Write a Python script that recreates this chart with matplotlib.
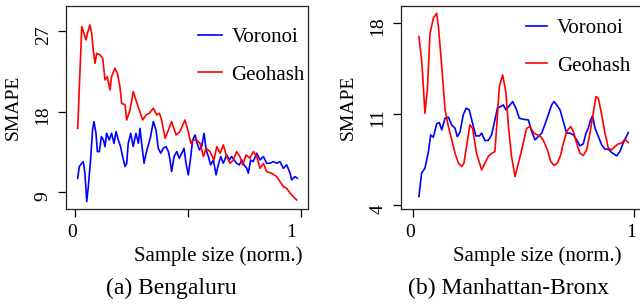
import matplotlib
matplotlib.use("Agg")
import matplotlib.pyplot as plt
from matplotlib.transforms import ScaledTranslation

plt.rcParams['font.family'] = ['Liberation Serif', 'DejaVu Serif']

# ---------------- data: (a) Bengaluru ----------------
a_geo_x = [0.012, 0.030, 0.037, 0.049, 0.055, 0.066, 0.074, 0.081, 0.089, 0.096,
           0.111, 0.123, 0.133, 0.143, 0.155, 0.162, 0.177, 0.188, 0.199, 0.207,
           0.222, 0.229, 0.244, 0.258, 0.270, 0.285, 0.300, 0.315, 0.329, 0.347,
           0.362, 0.374, 0.384, 0.399, 0.414, 0.428, 0.448, 0.465, 0.487, 0.502,
           0.513, 0.524, 0.539, 0.554, 0.569, 0.581, 0.598, 0.616, 0.628, 0.643,
           0.657, 0.672, 0.687, 0.702, 0.716, 0.731, 0.743, 0.758, 0.775, 0.790,
           0.805, 0.820, 0.835, 0.849, 0.871, 0.894, 0.908, 0.923, 0.938, 0.953,
           0.967, 0.982]
a_geo_y = [16.14, 27.48, 26.93, 26.00, 26.74, 27.67, 26.74, 24.88, 23.39, 24.51,
           24.32, 23.95, 21.54, 21.91, 20.42, 21.91, 22.84, 22.28, 20.79, 18.93,
           18.75, 17.07, 18.19, 20.23, 19.30, 18.19, 17.07, 17.63, 17.82, 18.38,
           17.63, 17.82, 17.07, 15.03, 15.96, 16.89, 15.40, 15.77, 17.07, 15.77,
           14.47, 14.84, 14.84, 14.47, 12.99, 13.91, 13.54, 12.61, 14.10, 13.36,
           14.29, 12.99, 12.24, 12.61, 13.54, 12.99, 12.06, 13.17, 12.80, 13.54,
           12.99, 11.68, 12.24, 11.31, 11.13, 10.75, 10.20, 9.64, 9.45, 8.90,
           8.52, 8.15]

a_vor_x = [0.012, 0.019, 0.030, 0.037, 0.044, 0.052, 0.059, 0.069, 0.078, 0.084,
           0.093, 0.099, 0.108, 0.117, 0.126, 0.133, 0.140, 0.152, 0.162, 0.173,
           0.182, 0.192, 0.202, 0.211, 0.222, 0.229, 0.236, 0.247, 0.258, 0.270,
           0.281, 0.288, 0.297, 0.306, 0.315, 0.325, 0.335, 0.347, 0.359, 0.369,
           0.380, 0.391, 0.403, 0.414, 0.421, 0.428, 0.439, 0.451, 0.462, 0.473,
           0.483, 0.492, 0.502, 0.513, 0.521, 0.532, 0.539, 0.551, 0.561, 0.572,
           0.581, 0.591, 0.601, 0.613, 0.625, 0.635, 0.646, 0.657, 0.672, 0.684,
           0.694, 0.705, 0.716, 0.728, 0.739, 0.749, 0.761, 0.768, 0.778, 0.790,
           0.805, 0.820, 0.835, 0.849, 0.864, 0.879, 0.894, 0.908, 0.923, 0.938,
           0.953, 0.960, 0.975, 0.985]
a_vor_y = [10.57, 11.87, 12.24, 12.43, 11.13, 7.97, 9.64, 12.61, 15.96, 16.89,
           15.59, 13.54, 13.54, 15.22, 14.84, 14.10, 15.59, 14.84, 15.59, 14.47,
           15.77, 14.84, 14.10, 12.99, 11.87, 12.24, 14.47, 15.59, 14.10, 15.59,
           14.47, 16.14, 14.10, 12.24, 13.36, 14.29, 15.22, 16.89, 15.96, 13.91,
           13.36, 13.91, 14.10, 13.54, 12.61, 11.31, 12.99, 13.54, 12.80, 13.36,
           13.91, 12.24, 10.94, 12.99, 14.84, 15.40, 14.66, 13.73, 14.10, 15.59,
           13.73, 12.99, 12.06, 12.61, 10.94, 12.06, 12.99, 12.24, 13.17, 12.61,
           12.99, 12.61, 12.24, 12.06, 12.61, 12.06, 11.68, 11.13, 12.61, 12.43,
           13.36, 12.61, 12.99, 12.24, 12.24, 12.43, 12.24, 12.43, 11.68, 12.06,
           11.13, 10.38, 10.75, 10.57]

# ---------------- data: (b) Manhattan-Bronx ----------------
b_geo_x = [0.028, 0.040, 0.048, 0.055, 0.066, 0.078, 0.093, 0.108, 0.116, 0.131,
           0.146, 0.161, 0.176, 0.191, 0.206, 0.221, 0.231, 0.243, 0.258, 0.270,
           0.288, 0.311, 0.326, 0.341, 0.356, 0.371, 0.382, 0.391, 0.406, 0.421,
           0.432, 0.446, 0.462, 0.477, 0.492, 0.502, 0.514, 0.529, 0.547, 0.563,
           0.578, 0.592, 0.608, 0.623, 0.638, 0.653, 0.668, 0.680, 0.695, 0.713,
           0.725, 0.740, 0.755, 0.770, 0.785, 0.800, 0.815, 0.827, 0.838, 0.853,
           0.868, 0.883, 0.898, 0.913, 0.928, 0.943, 0.958, 0.973]
b_geo_y = [16.93, 15.14, 13.09, 11.04, 12.83, 17.18, 18.33, 18.72, 17.69, 14.62,
           11.30, 10.02, 9.00, 7.97, 7.21, 6.95, 7.21, 8.49, 10.15, 9.89,
           7.97, 6.70, 7.21, 7.72, 7.97, 8.10, 10.79, 13.09, 13.98, 12.58,
           10.02, 7.72, 6.18, 7.21, 8.23, 9.00, 9.89, 10.02, 9.51, 9.38,
           9.25, 8.87, 8.23, 7.34, 7.03, 7.21, 7.85, 8.74, 9.64, 10.02,
           9.64, 8.74, 7.97, 7.80, 8.23, 9.51, 11.04, 12.32, 12.19, 10.92,
           9.51, 8.36, 8.23, 8.49, 8.69, 8.74, 9.05, 8.79]

b_vor_x = [0.028, 0.040, 0.055, 0.071, 0.081, 0.093, 0.108, 0.120, 0.131, 0.146,
           0.161, 0.176, 0.191, 0.201, 0.213, 0.228, 0.241, 0.255, 0.270, 0.285,
           0.301, 0.311, 0.326, 0.341, 0.356, 0.371, 0.382, 0.397, 0.409, 0.421,
           0.436, 0.451, 0.466, 0.481, 0.499, 0.522, 0.537, 0.552, 0.567, 0.582,
           0.596, 0.612, 0.627, 0.638, 0.650, 0.665, 0.680, 0.695, 0.710, 0.725,
           0.740, 0.755, 0.770, 0.782, 0.792, 0.803, 0.812, 0.823, 0.838, 0.853,
           0.868, 0.883, 0.898, 0.921, 0.935, 0.951, 0.973]
b_vor_y = [4.65, 6.44, 6.82, 8.10, 9.38, 9.20, 10.23, 10.33, 9.76, 10.66,
           10.74, 10.15, 9.89, 9.25, 9.56, 10.92, 11.43, 11.30, 10.28, 9.30,
           9.30, 9.51, 8.95, 8.95, 9.38, 10.53, 11.43, 11.56, 11.68, 11.30,
           11.61, 11.94, 11.43, 10.66, 10.58, 10.53, 9.64, 9.00, 9.25, 9.51,
           10.15, 10.92, 11.68, 11.94, 11.68, 11.30, 10.40, 9.51, 9.51, 9.38,
           9.00, 8.54, 8.69, 9.51, 9.89, 10.53, 10.84, 9.89, 9.25, 8.61,
           8.28, 8.28, 8.03, 7.77, 8.10, 8.79, 9.56]

series_names = ["Voronoi", "Geohash"]
a_yticks = [9, 18, 27]
b_yticks = [4, 11, 18]
a_xticks = [0, 0.5, 1]
a_xticklabels = ["0", "", "1"]
b_xticks = [0, 1]
b_xticklabels = ["0", "1"]
captions = ["(a) Bengaluru", "(b) Manhattan-Bronx"]
xlab = "Sample size (norm.)"
ylab = "SMAPE"

BLUE = "#0000ff"
RED = "#ff0000"

fig = plt.figure(figsize=(6.4, 3.07), dpi=100)
H = 307.0
W = 640.0
bot = (H - 209) / H
top = (H - 5.7) / H
axa = fig.add_axes([66.3 / W, bot, (308.3 - 66.3) / W, top - bot])
axb = fig.add_axes([401 / W, bot, (642 - 401) / W, top - bot])


def style(ax, xt, xtl, yt, xlim, ylim, legend_anchor, hlen):
    ax.set_xlim(*xlim)
    ax.set_ylim(*ylim)
    ax.set_xticks(xt)
    ax.set_xticklabels(xtl)
    ax.set_yticks(yt)
    ax.set_yticklabels([str(v) for v in yt], rotation=90, va='center')
    ax.tick_params(axis='both', direction='out', length=5.5, width=0.9,
                   labelsize=14, color='black')
    ax.tick_params(axis='x', pad=5)
    ax.tick_params(axis='y', pad=5)
    for s in ax.spines.values():
        s.set_linewidth(0.9)
        s.set_color('#222222')
    for lab in ax.get_yticklabels():
        lab.set_transform(lab.get_transform() +
                          ScaledTranslation(0, -0.04, fig.dpi_scale_trans))
    for lab in ax.get_xticklabels():
        lab.set_transform(lab.get_transform() +
                          ScaledTranslation(-0.03, 0, fig.dpi_scale_trans))
    ax.set_ylabel(ylab, fontsize=14)
    ax.yaxis.label.set_ha('center')
    ax.yaxis.label.set_va('center')
    ax.yaxis.set_label_coords(-53 / 242.0, 0.5)
    ax.legend(loc='upper left', bbox_to_anchor=legend_anchor, frameon=False,
              fontsize=15, handlelength=hlen, handletextpad=0.45,
              labelspacing=0.85, borderpad=0, borderaxespad=0)


axa.plot(a_vor_x, a_vor_y, color=BLUE, lw=1.2, label=series_names[0])
axa.plot(a_geo_x, a_geo_y, color=RED, lw=1.2, label=series_names[1])
style(axa, a_xticks, a_xticklabels, a_yticks, (-0.0385, 1.0337), (7.14, 29.82),
      (0.544, 0.892), 1.15)
# the "1" label of panel (a) sits a little left of its tick in the reference
lab1 = axa.get_xticklabels()[2]
lab1.set_transform(lab1.get_transform() +
                   ScaledTranslation(-0.07, 0, fig.dpi_scale_trans))

axb.plot(b_vor_x, b_vor_y, color=BLUE, lw=1.2, label=series_names[0])
axb.plot(b_geo_x, b_geo_y, color=RED, lw=1.2, label=series_names[1])
style(axb, b_xticks, b_xticklabels, b_yticks, (-0.053, 1.035), (3.69, 19.3),
      (0.517, 0.935), 1.05)

# x labels
axa.set_xlabel(xlab, fontsize=15)
axa.xaxis.label.set_va('center')
axa.xaxis.set_label_coords((218 - 66.3) / 242.0, -47 / 203.3)
axb.set_xlabel(xlab, fontsize=15)
axb.xaxis.label.set_va('center')
axb.xaxis.set_label_coords((537 - 401) / 241.0, -47 / 203.3)

# captions
fig.text(171.7 / W, (H - 288) / H, captions[0], ha='center', va='center', fontsize=17)
fig.text(508 / W, (H - 288) / H, captions[1], ha='center', va='center', fontsize=17)

fig.savefig("out.png", dpi=100)
